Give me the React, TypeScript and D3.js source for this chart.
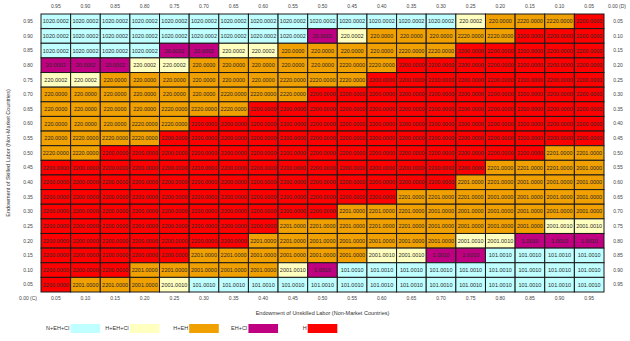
import React from 'react';
import * as d3 from 'd3';

// skilled-labour endowment, top row first (left axis) and its complement (right axis)
const skilled = ['0.95', '0.90', '0.85', '0.80', '0.75', '0.70', '0.65', '0.60', '0.55', '0.50', '0.45', '0.40', '0.35', '0.30', '0.25', '0.20', '0.15', '0.10', '0.05'];
const skilledRight = ['0.05', '0.10', '0.15', '0.20', '0.25', '0.30', '0.35', '0.40', '0.45', '0.50', '0.55', '0.60', '0.65', '0.70', '0.75', '0.80', '0.85', '0.90', '0.95'];
// unskilled-labour endowment (bottom axis) and its complement (top axis)
const unskilled = ['0.05', '0.10', '0.15', '0.20', '0.25', '0.30', '0.35', '0.40', '0.45', '0.50', '0.55', '0.60', '0.65', '0.70', '0.75', '0.80', '0.85', '0.90', '0.95'];
const unskilledTop = ['0.95', '0.90', '0.85', '0.80', '0.75', '0.70', '0.65', '0.60', '0.55', '0.50', '0.45', '0.40', '0.35', '0.30', '0.25', '0.20', '0.15', '0.10', '0.05'];

const regimes = ['N+EH+CI', 'H+EH+CI', 'H+EH', 'EH+CI', 'H'];
const regimeColors = ['#bfffff', '#ffffc0', '#f0a000', '#bf0080', '#ff0000'];

// equilibrium code -> regime
const codeRegime: Record<string, string> = {
  '1020.0002': 'N+EH+CI',
  '101.0010': 'N+EH+CI',
  '220.0002': 'H+EH+CI',
  '2001.0010': 'H+EH+CI',
  '220.0000': 'H+EH',
  '2220.0000': 'H+EH',
  '2201.0000': 'H+EH',
  '2001.0000': 'H+EH',
  '20.0002': 'EH+CI',
  '1.0010': 'EH+CI',
  '2200.0000': 'H',
};

// one row per skilled value (top to bottom), one entry per unskilled value (left to right)
const outcomes: string[][] = [
  ['1020.0002', '1020.0002', '1020.0002', '1020.0002', '1020.0002', '1020.0002', '1020.0002', '1020.0002', '1020.0002', '1020.0002', '1020.0002', '1020.0002', '1020.0002', '1020.0002', '220.0002', '220.0000', '2220.0000', '2220.0000', '2200.0000'],
  ['1020.0002', '1020.0002', '1020.0002', '1020.0002', '1020.0002', '1020.0002', '1020.0002', '1020.0002', '1020.0002', '20.0002', '220.0002', '220.0000', '220.0000', '220.0000', '2220.0000', '2220.0000', '2200.0000', '2200.0000', '2200.0000'],
  ['1020.0002', '1020.0002', '1020.0002', '1020.0002', '20.0002', '20.0002', '220.0002', '220.0002', '220.0000', '220.0000', '220.0000', '220.0000', '2220.0000', '2220.0000', '2200.0000', '2200.0000', '2200.0000', '2200.0000', '2200.0000'],
  ['20.0002', '20.0002', '20.0002', '220.0002', '220.0002', '220.0000', '220.0000', '220.0000', '220.0000', '220.0000', '2220.0000', '2220.0000', '2200.0000', '2200.0000', '2200.0000', '2200.0000', '2200.0000', '2200.0000', '2200.0000'],
  ['220.0002', '220.0002', '220.0000', '220.0000', '220.0000', '220.0000', '220.0000', '220.0000', '2220.0000', '2220.0000', '2220.0000', '2200.0000', '2200.0000', '2200.0000', '2200.0000', '2200.0000', '2200.0000', '2200.0000', '2200.0000'],
  ['220.0000', '220.0000', '220.0000', '220.0000', '220.0000', '220.0000', '2220.0000', '2220.0000', '2220.0000', '2200.0000', '2200.0000', '2200.0000', '2200.0000', '2200.0000', '2200.0000', '2200.0000', '2200.0000', '2200.0000', '2200.0000'],
  ['220.0000', '220.0000', '220.0000', '220.0000', '2220.0000', '2220.0000', '2220.0000', '2200.0000', '2200.0000', '2200.0000', '2200.0000', '2200.0000', '2200.0000', '2200.0000', '2200.0000', '2200.0000', '2200.0000', '2200.0000', '2200.0000'],
  ['220.0000', '220.0000', '220.0000', '2220.0000', '2220.0000', '2200.0000', '2200.0000', '2200.0000', '2200.0000', '2200.0000', '2200.0000', '2200.0000', '2200.0000', '2200.0000', '2200.0000', '2200.0000', '2200.0000', '2200.0000', '2200.0000'],
  ['220.0000', '2220.0000', '2220.0000', '2220.0000', '2200.0000', '2200.0000', '2200.0000', '2200.0000', '2200.0000', '2200.0000', '2200.0000', '2200.0000', '2200.0000', '2200.0000', '2200.0000', '2200.0000', '2200.0000', '2200.0000', '2200.0000'],
  ['2220.0000', '2220.0000', '2200.0000', '2200.0000', '2200.0000', '2200.0000', '2200.0000', '2200.0000', '2200.0000', '2200.0000', '2200.0000', '2200.0000', '2200.0000', '2200.0000', '2200.0000', '2200.0000', '2200.0000', '2201.0000', '2201.0000'],
  ['2200.0000', '2200.0000', '2200.0000', '2200.0000', '2200.0000', '2200.0000', '2200.0000', '2200.0000', '2200.0000', '2200.0000', '2200.0000', '2200.0000', '2200.0000', '2200.0000', '2200.0000', '2201.0000', '2201.0000', '2201.0000', '2001.0000'],
  ['2200.0000', '2200.0000', '2200.0000', '2200.0000', '2200.0000', '2200.0000', '2200.0000', '2200.0000', '2200.0000', '2200.0000', '2200.0000', '2200.0000', '2200.0000', '2200.0000', '2201.0000', '2201.0000', '2001.0000', '2001.0000', '2001.0000'],
  ['2200.0000', '2200.0000', '2200.0000', '2200.0000', '2200.0000', '2200.0000', '2200.0000', '2200.0000', '2200.0000', '2200.0000', '2200.0000', '2200.0000', '2201.0000', '2201.0000', '2201.0000', '2001.0000', '2001.0000', '2001.0000', '2001.0000'],
  ['2200.0000', '2200.0000', '2200.0000', '2200.0000', '2200.0000', '2200.0000', '2200.0000', '2200.0000', '2200.0000', '2200.0000', '2201.0000', '2201.0000', '2201.0000', '2001.0000', '2001.0000', '2001.0000', '2001.0000', '2001.0000', '2001.0000'],
  ['2200.0000', '2200.0000', '2200.0000', '2200.0000', '2200.0000', '2200.0000', '2200.0000', '2200.0000', '2201.0000', '2201.0000', '2201.0000', '2201.0000', '2201.0000', '2001.0000', '2001.0000', '2001.0000', '2001.0000', '2001.0010', '2001.0010'],
  ['2200.0000', '2200.0000', '2200.0000', '2200.0000', '2200.0000', '2200.0000', '2200.0000', '2201.0000', '2201.0000', '2001.0000', '2001.0000', '2001.0000', '2001.0000', '2001.0000', '2001.0010', '2001.0010', '1.0010', '1.0010', '1.0010'],
  ['2200.0000', '2200.0000', '2200.0000', '2200.0000', '2200.0000', '2201.0000', '2201.0000', '2001.0000', '2001.0000', '2001.0000', '2001.0000', '2001.0010', '2001.0010', '1.0010', '1.0010', '101.0010', '101.0010', '101.0010', '101.0010'],
  ['2200.0000', '2200.0000', '2200.0000', '2201.0000', '2201.0000', '2001.0000', '2001.0000', '2001.0000', '2001.0010', '1.0010', '101.0010', '101.0010', '101.0010', '101.0010', '101.0010', '101.0010', '101.0010', '101.0010', '101.0010'],
  ['2200.0000', '2201.0000', '2201.0000', '2001.0000', '2001.0010', '101.0010', '101.0010', '101.0010', '101.0010', '101.0010', '101.0010', '101.0010', '101.0010', '101.0010', '101.0010', '101.0010', '101.0010', '101.0010', '101.0010'],
];

const width = 630;
const height = 341;
const margin = {top: 14, right: 26, bottom: 49, left: 41};
const font = '"Liberation Sans", Arial, sans-serif';

export default function App() {
  const x = d3.scaleBand<string>().domain(unskilled).range([margin.left, width - margin.right]);
  const y = d3.scaleBand<string>().domain(skilled).range([margin.top, height - margin.bottom]);
  const color = d3.scaleOrdinal<string, string>().domain(regimes).range(regimeColors);
  const cw = x.bandwidth();
  const ch = y.bandwidth();
  const gridBottom = height - margin.bottom;
  const legendY = 324;

  return (
    <svg width={width} height={height} style={{position: 'absolute', left: 0, top: 0, background: '#fff'}} fontFamily={font}>
      {outcomes.map((row, i) => row.map((code, j) => (
        <g key={`${i}-${j}`}>
          <rect x={x(unskilled[j])} y={y(skilled[i])} width={cw} height={ch}
            fill={color(codeRegime[code])} stroke="#1a1a1a" strokeWidth={1} />
          <text x={(x(unskilled[j]) as number) + cw / 2} y={(y(skilled[i]) as number) + ch / 2}
            dy="0.35em" textAnchor="middle" fontSize={5.5} fill="#2a2a2a">{code}</text>
        </g>
      )))}

      {/* left and right axes */}
      {skilled.map((s, i) => (
        <g key={s}>
          <text x={28} y={(y(s) as number) + ch / 2} dy="0.35em" textAnchor="middle" fontSize={5} fill="#444">{s}</text>
          <text x={618} y={(y(s) as number) + ch / 2} dy="0.35em" textAnchor="middle" fontSize={5} fill="#444">{skilledRight[i]}</text>
        </g>
      ))}
      {/* bottom and top axes */}
      {unskilled.map((u, j) => (
        <g key={u}>
          <text x={(x(u) as number) + cw / 2} y={298} dy="0.35em" textAnchor="middle" fontSize={5} fill="#444">{u}</text>
          <text x={(x(u) as number) + cw / 2} y={6} dy="0.35em" textAnchor="middle" fontSize={5} fill="#444">{unskilledTop[j]}</text>
        </g>
      ))}
      <text x={28} y={298} dy="0.35em" textAnchor="middle" fontSize={5} fill="#444">0.00 (C)</text>
      <text x={617} y={6} dy="0.35em" textAnchor="middle" fontSize={5} fill="#444">0.00 (D)</text>

      <text x={(margin.left + width - margin.right) / 2} y={313} dy="0.35em" textAnchor="middle" fontSize={5.5} fill="#333">
        Endowment of Unskilled Labor (Non-Market Countries)
      </text>
      <text transform={`translate(8, ${(margin.top + gridBottom) / 2}) rotate(-90)`} dy="0.35em" textAnchor="middle" fontSize={5.5} fill="#333">
        Endowment of Skilled Labor (Non-Market Countries)
      </text>

      {/* legend, one swatch every second column */}
      {regimes.map((r, k) => {
        const bx = x(unskilled[1 + 2 * k]) as number;
        return (
          <g key={r}>
            <rect x={bx} y={legendY} width={cw} height={9} fill={color(r)} />
            <text x={bx - 1} y={legendY + 4.5} dy="0.35em" textAnchor="end" fontSize={5.5} fill="#333">{r}</text>
          </g>
        );
      })}
    </svg>
  );
}
